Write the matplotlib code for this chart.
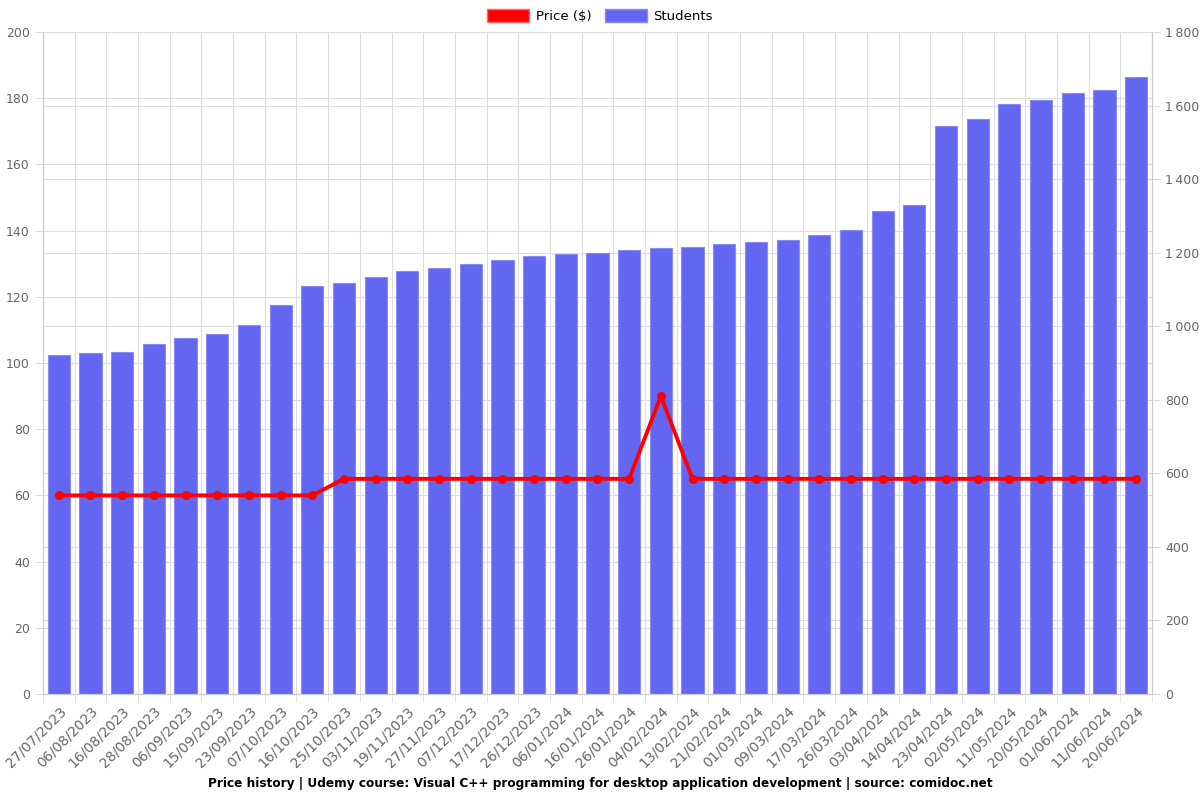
import numpy as np
import matplotlib.pyplot as plt
from matplotlib.patches import Patch

dates = ['27/07/2023', '06/08/2023', '16/08/2023', '28/08/2023', '06/09/2023',
         '15/09/2023', '23/09/2023', '07/10/2023', '16/10/2023', '25/10/2023',
         '03/11/2023', '19/11/2023', '27/11/2023', '07/12/2023', '17/12/2023',
         '26/12/2023', '06/01/2024', '16/01/2024', '26/01/2024', '04/02/2024',
         '13/02/2024', '21/02/2024', '01/03/2024', '09/03/2024', '17/03/2024',
         '26/03/2024', '03/04/2024', '14/04/2024', '23/04/2024', '02/05/2024',
         '11/05/2024', '20/05/2024', '01/06/2024', '11/06/2024', '20/06/2024']
students = [922, 927, 930, 951, 968, 979, 1003, 1058, 1109, 1117,
            1134, 1150, 1158, 1169, 1180, 1191, 1196, 1199, 1207, 1213,
            1215, 1223, 1229, 1234, 1248, 1262, 1313, 1330, 1544, 1563,
            1604, 1615, 1634, 1642, 1677]
price = [60, 60, 60, 60, 60, 60, 60, 60, 60, 65,
         65, 65, 65, 65, 65, 65, 65, 65, 65, 90,
         65, 65, 65, 65, 65, 65, 65, 65, 65, 65,
         65, 65, 65, 65, 65]
price_ticks = list(range(0, 201, 20))
student_ticks = list(range(0, 1801, 200))

text_color = '#666666'
grid_color = '#dddddd'
bar_color = '#6366f0'
x = np.arange(len(dates))

fig = plt.figure(figsize=(12, 8), dpi=100)
# bottom axes: students (right side ticks), holds all gridlines so bars cover them
axs = fig.add_axes([0.0358, 0.1325, 0.9242, 0.8275])
axs.set_ylim(0, 1800)
axs.set_xlim(-0.5, len(dates) - 0.5)
axs.set_yticks(student_ticks)
axs.set_yticklabels([f'{v:,}'.replace(',', '\u2009') for v in student_ticks])
axs.set_axisbelow(True)
axs.grid(True, axis='y', color=grid_color, linewidth=0.8)
for v in price_ticks:
    axs.axhline(v * 1800 / 200, color=grid_color, linewidth=0.8, zorder=0.5)
axs.bar(x, students, width=0.7, color=bar_color, edgecolor='#8a8cf5', linewidth=0.8, zorder=2)

axs.set_xticks(x)
axs.set_xticklabels(dates, rotation=45, ha='right', rotation_mode='anchor')
axs.set_xticks(np.arange(-0.5, len(dates), 1), minor=True)
axs.grid(True, axis='x', which='minor', color=grid_color, linewidth=0.8)

# top axes: price (left side ticks)
axp = axs.twinx()
axp.yaxis.tick_left()
axp.yaxis.set_label_position('left')
axs.yaxis.tick_right()
axs.yaxis.set_label_position('right')
axp.plot(x, price, color='#ff0000', linewidth=2.8, marker='o', markersize=5.5, zorder=5)
axp.set_ylim(0, 200)
axp.set_yticks(price_ticks)

for ax in (axs, axp):
    ax.tick_params(axis='both', labelsize=9, labelcolor=text_color, color=grid_color)
    ax.tick_params(axis='y', length=6)
    for sp in ax.spines.values():
        sp.set_color('#cccccc')
    ax.spines['top'].set_visible(False)
axs.tick_params(axis='x', which='major', length=0, pad=7, labelsize=10)
axs.tick_params(axis='x', which='minor', length=6, color=grid_color)

legend_items = [Patch(facecolor='#ff0000', edgecolor='#ff6666', label='Price ($)'),
                Patch(facecolor=bar_color, edgecolor='#8a8cf5', label='Students')]
fig.legend(handles=legend_items, loc='upper center', bbox_to_anchor=(0.5, 1.003), ncol=2,
           frameon=False, fontsize=9.5, handlelength=3.2, handleheight=1.1,
           handletextpad=0.5, columnspacing=1.0)

fig.text(0.5, 0.021, 'Price history | Udemy course: Visual C++ programming for desktop application development | source: comidoc.net',
         ha='center', va='center', fontsize=8.7, fontweight='bold')

plt.savefig('out.png', dpi=100)
